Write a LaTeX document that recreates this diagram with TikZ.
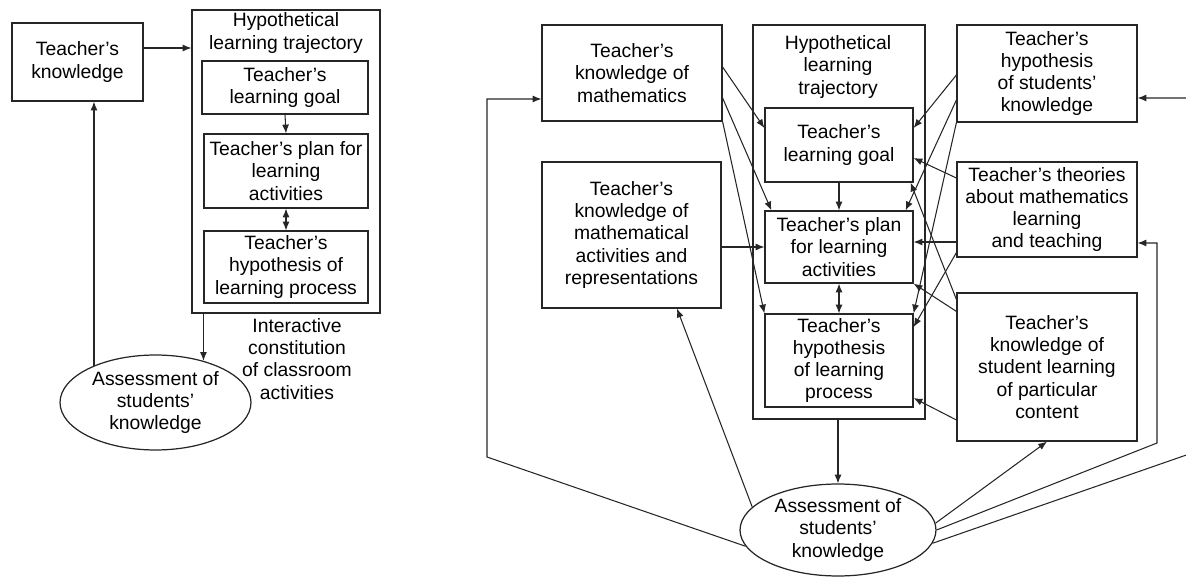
\documentclass[tikz,border=0pt]{standalone}
\usepackage{fontspec}
\setmainfont{Liberation Sans}
\usetikzlibrary{calc, positioning, shapes.geometric, arrows.meta}

\begin{document}
\begin{tikzpicture}[
    x=0.02cm, y=-0.02cm,
    >={Latex[length=5pt,width=4pt]},
    kbox/.style={draw=black!85, line width=0.7pt, align=center, inner sep=2pt, font=\fontsize{11}{12.6}\selectfont},
    ebox/.style={draw=black!85, ellipse, line width=0.7pt, align=center, inner sep=0pt, font=\fontsize{11}{12.6}\selectfont},
    ttl/.style={align=center, inner sep=0pt, font=\fontsize{11}{12.6}\selectfont},
    arr/.style={->, draw=black!85, line width=0.6pt},
]
\useasboundingbox (0,0) rectangle (1186,577);

% === Left: teaching cycle ===
\node[kbox, minimum width=2.62cm, minimum height=1.56cm] (know) at (77.5, 62) {Teacher's\\knowledge};
\node[kbox, minimum width=3.76cm, minimum height=6.06cm] (hlt1) at (286, 161.5) {};
\node[ttl] (hlt1t) at (286, 33) {Hypothetical\\learning trajectory};
\node[kbox, minimum width=3.32cm, minimum height=1.06cm] (goal1) at (285, 87.5) {Teacher's\\learning goal};
\node[kbox, minimum width=3.28cm, minimum height=1.48cm] (plan1) at (286, 171) {Teacher's plan for\\learning\\activities};
\node[kbox, minimum width=3.28cm, minimum height=1.44cm] (hyp1) at (286, 267) {Teacher's\\hypothesis of\\learning process};
\node[ebox, minimum width=3.82cm, minimum height=1.9cm] (ass1) at (155.5, 402.5) {Assessment of\\students'\\knowledge};
\node[ttl] (inter) at (297, 359) {Interactive\\constitution\\of classroom\\activities};

\draw[arr] ([yshift=0.28cm]know.east) -- ([yshift=0.28cm]know.east -| hlt1.west);
\draw[arr] (goal1.south) -- (plan1.north);
\draw[<->, draw=black!85, line width=0.6pt] (plan1.south) -- (hyp1.north);
\draw[arr] (ass1.41 |- hlt1.south) -- (ass1.41);
\draw[arr] (ass1.149) -- (ass1.149 |- know.south);

% === Right: extended model ===
\node[kbox, minimum width=3.6cm, minimum height=1.92cm] (tkm) at (632, 73) {Teacher's\\knowledge of\\mathematics};
\node[kbox, minimum width=3.58cm, minimum height=2.92cm] (tkar) at (631.5, 235) {Teacher's\\knowledge of\\mathematical\\activities and\\representations};
\node[kbox, minimum width=3.44cm, minimum height=7.88cm] (hlt2) at (839, 222) {};
\node[ttl] (hlt2t) at (838, 67) {Hypothetical\\learning\\trajectory};
\node[kbox, minimum width=2.96cm, minimum height=1.48cm] (goal2) at (839, 145) {Teacher's\\learning goal};
\node[kbox, minimum width=2.96cm, minimum height=1.44cm] (plan2) at (839, 247) {Teacher's plan\\for learning\\activities};
\node[kbox, minimum width=2.96cm, minimum height=1.86cm] (hyp2) at (839, 360.5) {Teacher's\\hypothesis\\of learning\\process};
\node[kbox, minimum width=3.6cm, minimum height=1.94cm] (thsk) at (1047, 73.5) {Teacher's\\hypothesis\\of students'\\knowledge};
\node[kbox, minimum width=3.6cm, minimum height=1.9cm] (ttml) at (1047, 209.5) {Teacher's theories\\about mathematics\\learning\\and teaching};
\node[kbox, minimum width=3.6cm, minimum height=2.96cm] (tksl) at (1047, 367) {Teacher's\\knowledge of\\student learning\\of particular\\content};
\node[ebox, minimum width=3.92cm, minimum height=1.84cm] (ass2) at (838, 530) {Assessment of\\students'\\knowledge};

% bends of the feedback lines
\coordinate (bendL) at (487, 457);
\coordinate (bendT) at (1157, 443);
\coordinate (bendH) at (1195, 452);

% inside the trajectory
\draw[arr] (goal2.south) -- (plan2.north);
\draw[<->, draw=black!85, line width=0.6pt] (plan2.south) -- (hyp2.north);
\draw[arr] (ass2.north |- hlt2.south) -- (ass2.north);

% knowledge on the left
\draw[arr] ([yshift=0.12cm]tkm.east) -- ([yshift=0.34cm]goal2.west);
\draw[arr] ([yshift=-0.5cm]tkm.east) -- ([xshift=0.14cm]plan2.north west);
\draw[arr] (tkm.south east) -- (hyp2.north west);
\draw[arr] (plan2.west -| tkar.east) -- (plan2.west);

% knowledge on the right
\draw[arr] ([yshift=-0.03cm]thsk.west) -- ([yshift=0.34cm]goal2.east);
\draw[arr] ([yshift=-0.53cm]thsk.west) -- ([xshift=-0.16cm]plan2.north east);
\draw[arr] (thsk.south west) -- (hyp2.north east);
\draw[arr] ([yshift=0.63cm]ttml.west) -- ([yshift=-0.26cm]goal2.east);
\draw[arr] ([yshift=0.1cm]plan2.east -| ttml.west) -- ([yshift=0.1cm]plan2.east);
\draw[arr] ([yshift=0.1cm]ttml.south west) -- ([yshift=0.67cm]hyp2.east);
\draw[arr] ([yshift=-0.14cm]tksl.north west) -- ([xshift=-0.06cm]goal2.south east);
\draw[arr] ([yshift=-0.38cm]tksl.north west) -- (plan2.south east);
\draw[arr] ([yshift=-1.06cm]tksl.west) -- ([yshift=-0.75cm]hyp2.east);

% assessment feeds back
\draw[arr] (ass2.190) -- (bendL) |- ([yshift=-0.52cm]tkm.west);
\draw[arr] (ass2.165) -- ([xshift=0.91cm]tkar.south);
\draw[arr] (ass2.4) -- (tksl.south);
\draw[arr] (ass2.east) -- (bendT) |- ([yshift=-0.67cm]ttml.east);
\draw[arr] (ass2.-8) -- (bendH) |- ([yshift=-0.49cm]thsk.east);
\end{tikzpicture}
\end{document}
